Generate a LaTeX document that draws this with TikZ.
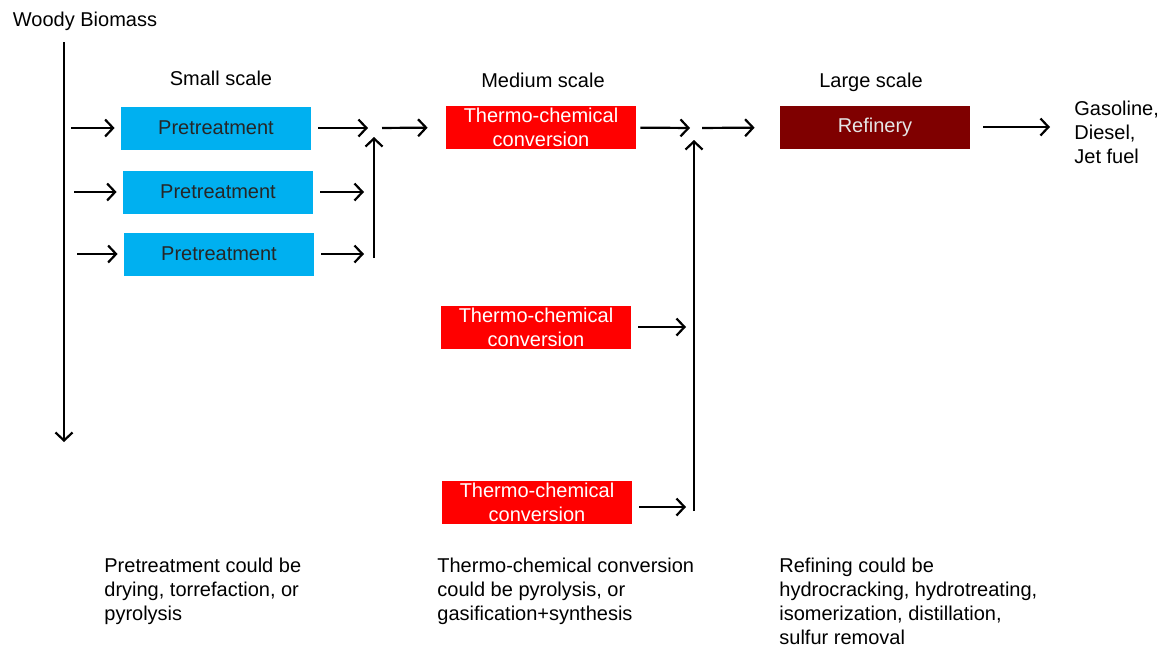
\documentclass[tikz,border=0pt]{standalone}
\usepackage{fontspec}
\setmainfont{Liberation Sans}
\usetikzlibrary{arrows.meta}

\begin{document}
\begin{tikzpicture}[x=0.5pt,y=-0.5pt,
    box/.style={minimum width=95pt,minimum height=21.5pt,inner sep=0pt,align=center},
    pre/.style={box,fill=preblue,text=black!85},
    thermo/.style={box,fill=red,text=white},
    refin/.style={box,fill=refred,text=white!90!black},
    flow/.style={-{Straight Barb[length=4pt,width=8.5pt,line width=1.1pt]},line width=1.1pt,shorten <=3.5pt,shorten >=3pt},
    txt/.style={inner sep=0pt,align=left}]
    \definecolor{preblue}{HTML}{00B0F0}
    \definecolor{refred}{HTML}{7F0000}
    \useasboundingbox (0,0) rectangle (1162,649);
    % titles
    \node[txt] (wood) at (85,21) {Woody Biomass};
    \node[txt] (small) at (221,78) {Small scale};
    \node[txt] (medium) at (543,80) {Medium scale};
    \node[txt] (large) at (871,82) {Large scale};
    % boxes
    \node[pre] (p1) at (216,128) {Pretreatment};
    \node[pre] (p2) at (218,192) {Pretreatment};
    \node[pre] (p3) at (219,254) {Pretreatment};
    \node[thermo] (t1) at (541,127) {Thermo-chemical\\conversion};
    \node[thermo] (t2) at (536,327) {Thermo-chemical\\conversion};
    \node[thermo] (t3) at (537,502) {Thermo-chemical\\conversion};
    \node[refin] (r) at (875,127) {Refinery};
    \node[txt,anchor=north west] (fuel) at (1074,101) {Gasoline,\\Diesel,\\Jet fuel};
    % junctions
    \coordinate (wtop) at (64,42);
    \coordinate (wbot) at (64,442);
    \coordinate (w1) at (64,128);
    \coordinate (w2) at (67,192);
    \coordinate (w3) at (70,254);
    \coordinate (j1) at (374,128);
    \coordinate (j1b) at (374,258);
    \coordinate (j2) at (694,128);
    \coordinate (j2b) at (694,511);
    % biomass feed
    \draw[flow,shorten <=0pt,shorten >=0pt] (wtop) -- (wbot);
    \draw[flow] (w1) -- (p1);
    \draw[flow] (w2) -- (p2);
    \draw[flow] (w3) -- (p3);
    % small scale to medium scale
    \draw[flow] (p1) -- (j1);
    \draw[flow,shorten >=5pt] (p2) -- (p2 -| j1);
    \draw[flow,shorten >=5pt] (p3) -- (p3 -| j1);
    \draw[flow,shorten <=0pt,shorten >=4.5pt] (j1b) -- (j1);
    \draw[flow,shorten <=4pt,shorten >=9pt] (j1) -- (t1);
    % medium scale to large scale
    \draw[flow,shorten <=2pt,shorten >=2pt] (t1) -- (j2);
    \draw[flow,shorten >=4pt] (t2) -- (t2 -| j2);
    \draw[flow,shorten >=4pt] ([yshift=-2.5pt]t3.east) -- ([yshift=-2.5pt]t3.east -| j2);
    \draw[flow,shorten <=0pt,shorten >=6pt] (j2b) -- (j2);
    \draw[flow,shorten <=4pt,shorten >=12.5pt] (j2) -- (r);
    \draw[flow,shorten <=6.5pt,shorten >=12pt] (r) -- (r -| fuel.west);
    % notes
    \node[txt,anchor=north west] (npre) at (104,558) {Pretreatment could be\\drying, torrefaction, or\\pyrolysis};
    \node[txt,anchor=north west] (nthermo) at (437,558) {Thermo-chemical conversion\\could be pyrolysis, or\\gasification+synthesis};
    \node[txt,anchor=north west] (nrefin) at (779,558) {Refining could be\\hydrocracking, hydrotreating,\\isomerization, distillation,\\sulfur removal};
\end{tikzpicture}
\end{document}
